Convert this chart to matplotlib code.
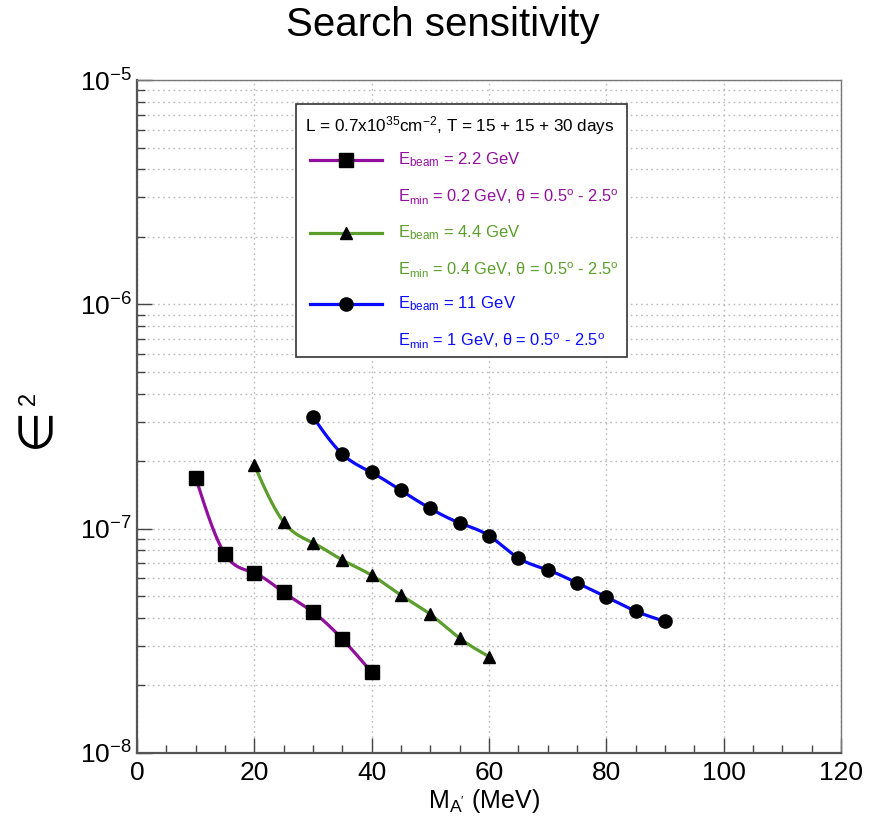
import numpy as np
import matplotlib
matplotlib.use("Agg")
import matplotlib.pyplot as plt
from matplotlib.lines import Line2D
from matplotlib.patches import Rectangle
from matplotlib.ticker import LogLocator, MultipleLocator, NullFormatter

plt.rcParams['font.family'] = ['Liberation Sans', 'DejaVu Sans']
plt.rcParams['mathtext.fontset'] = 'custom'
plt.rcParams['mathtext.rm'] = 'Liberation Sans'
plt.rcParams['mathtext.it'] = 'Liberation Sans:italic'
plt.rcParams['mathtext.bf'] = 'Liberation Sans:bold'

# ---------------- data ----------------
mass_22 = [10, 15, 20, 25, 30, 35, 40]
eps2_22 = [1.69e-7, 7.7e-8, 6.35e-8, 5.2e-8, 4.25e-8, 3.22e-8, 2.29e-8]

mass_44 = [20, 25, 30, 35, 40, 45, 50, 55, 60]
eps2_44 = [1.92e-7, 1.07e-7, 8.65e-8, 7.25e-8, 6.2e-8, 5.05e-8, 4.15e-8, 3.25e-8, 2.69e-8]

mass_11 = [30, 35, 40, 45, 50, 55, 60, 65, 70, 75, 80, 85, 90]
eps2_11 = [3.15e-7, 2.15e-7, 1.78e-7, 1.48e-7, 1.23e-7, 1.06e-7, 9.3e-8,
           7.4e-8, 6.55e-8, 5.73e-8, 4.96e-8, 4.29e-8, 3.86e-8]

title = "Search sensitivity"
xlabel = r"M$_{\mathrm{A'}}$ (MeV)"
ylabel_sym = "∈"
ylabel_sup = "2"
header = r"L = 0.7x10$^{35}$cm$^{-2}$, T = 15 + 15 + 30 days"
labels_beam = [r"E$_{\mathrm{beam}}$ = 2.2 GeV", r"E$_{\mathrm{beam}}$ = 4.4 GeV", r"E$_{\mathrm{beam}}$ = 11 GeV"]
labels_cut = [r"E$_{\mathrm{min}}$ = 0.2 GeV, θ = 0.5$^{\mathrm{o}}$ - 2.5$^{\mathrm{o}}$",
              r"E$_{\mathrm{min}}$ = 0.4 GeV, θ = 0.5$^{\mathrm{o}}$ - 2.5$^{\mathrm{o}}$",
              r"E$_{\mathrm{min}}$ = 1 GeV, θ = 0.5$^{\mathrm{o}}$ - 2.5$^{\mathrm{o}}$"]

colors = ['#920f9e', '#5b9e2c', '#0a0aff']
markers = ['s', '^', 'o']


def smooth(x, y, n=30):
    """Natural cubic spline through points in (x, log10 y) for drawing."""
    x = np.asarray(x, float)
    ly = np.log10(np.asarray(y, float))
    k = len(x)
    h = np.diff(x)
    A = np.zeros((k, k))
    b = np.zeros(k)
    A[0, 0] = A[-1, -1] = 1
    for i in range(1, k - 1):
        A[i, i - 1] = h[i - 1]
        A[i, i] = 2 * (h[i - 1] + h[i])
        A[i, i + 1] = h[i]
        b[i] = 6 * ((ly[i + 1] - ly[i]) / h[i] - (ly[i] - ly[i - 1]) / h[i - 1])
    M = np.linalg.solve(A, b)
    xs, ys = [], []
    for i in range(k - 1):
        t = np.linspace(x[i], x[i + 1], n, endpoint=(i == k - 2))
        a = x[i + 1] - t
        c = t - x[i]
        s = (M[i] * a ** 3 / (6 * h[i]) + M[i + 1] * c ** 3 / (6 * h[i])
             + (ly[i] / h[i] - M[i] * h[i] / 6) * a + (ly[i + 1] / h[i] - M[i + 1] * h[i] / 6) * c)
        xs.append(t)
        ys.append(s)
    return np.concatenate(xs), 10 ** np.concatenate(ys)


W, H = 870, 825
fig = plt.figure(figsize=(W / 100, H / 100), dpi=100)
ax = fig.add_axes([137 / W, 1 - 753 / H, (841 - 137) / W, (753 - 80) / H])

ax.set_yscale('log')
ax.set_xlim(0, 120)
ax.set_ylim(1e-8, 1e-5)

series = [(mass_22, eps2_22), (mass_44, eps2_44), (mass_11, eps2_11)]
for (mx, ey), col, mk in zip(series, colors, markers):
    sx, sy = smooth(mx, ey)
    ax.plot(sx, sy, color=col, lw=2.3, zorder=3, solid_capstyle='round')
    ax.plot(mx, ey, ls='none', marker=mk, color='black', ms=9.5 if mk != '^' else 9, zorder=4)

# ticks
ax.xaxis.set_major_locator(MultipleLocator(20))
ax.xaxis.set_minor_locator(MultipleLocator(5))
ax.yaxis.set_major_locator(LogLocator(base=10, numticks=10))
ax.yaxis.set_minor_locator(LogLocator(base=10, subs=np.arange(2, 10), numticks=20))
ax.yaxis.set_minor_formatter(NullFormatter())
ax.tick_params(which='both', direction='in', top=False, right=False, color='#444444', width=1.0,
               labelsize=19, pad=6)
ax.tick_params(axis='x', which='major', length=11)
ax.tick_params(axis='x', which='minor', length=6)
ax.tick_params(axis='y', which='major', length=11)
ax.tick_params(axis='y', which='minor', length=6)
ax.tick_params(axis='y', pad=4)

ax.grid(True, which='major', axis='x', color='#bbbbbb', ls=(0, (1.2, 2.5)), lw=1.0)
ax.grid(True, which='both', axis='y', color='#bbbbbb', ls=(0, (1.2, 2.5)), lw=1.0)
ax.set_axisbelow(True)

for side in ['left', 'bottom']:
    ax.spines[side].set_linewidth(1.6)
    ax.spines[side].set_color('#555555')
for side in ['right', 'top']:
    ax.spines[side].set_linewidth(1.0)
    ax.spines[side].set_color('#777777')

fig.text(443 / W, 1 - 25 / H, title, ha='center', va='center', fontsize=29)
fig.text(484 / W, 1 - 801 / H, xlabel, ha='center', va='center', fontsize=18)
# rotated epsilon-squared label
fig.text(37 / W, 1 - 427 / H, ylabel_sym, ha='center', va='center', fontsize=34, rotation=90,
         family=['DejaVu Sans'])
fig.text(29 / W, 1 - 398 / H, ylabel_sup, ha='center', va='center', fontsize=17, rotation=90)

# legend box (figure pixel coordinates)
def fx(p):
    return p / W


def fy(p):
    return 1 - p / H


fig.patches.append(Rectangle((fx(296), fy(357)), fx(627) - fx(296), fy(104) - fy(357),
                             transform=fig.transFigure, facecolor='white', edgecolor='#333333',
                             lw=1.2, zorder=5))
fig.text(fx(305), fy(126), header, ha='left', va='center', fontsize=12.3, zorder=6)
rows = [160, 233, 304]
for r, lb, lc, col, mk in zip(rows, labels_beam, labels_cut, colors, markers):
    fig.add_artist(Line2D([fx(310), fx(382)], [fy(r), fy(r)], color=col, lw=2.3,
                          transform=fig.transFigure, zorder=6))
    fig.add_artist(Line2D([fx(346)], [fy(r)], color='black', marker=mk, ms=9.5 if mk != '^' else 9,
                          ls='none', transform=fig.transFigure, zorder=7))
    fig.text(fx(398), fy(r), lb, color=col, ha='left', va='center', fontsize=12, zorder=6)
    fig.text(fx(398), fy(r + 37), lc, color=col, ha='left', va='center', fontsize=11.8, zorder=6)

fig.savefig('out.png', dpi=100)
